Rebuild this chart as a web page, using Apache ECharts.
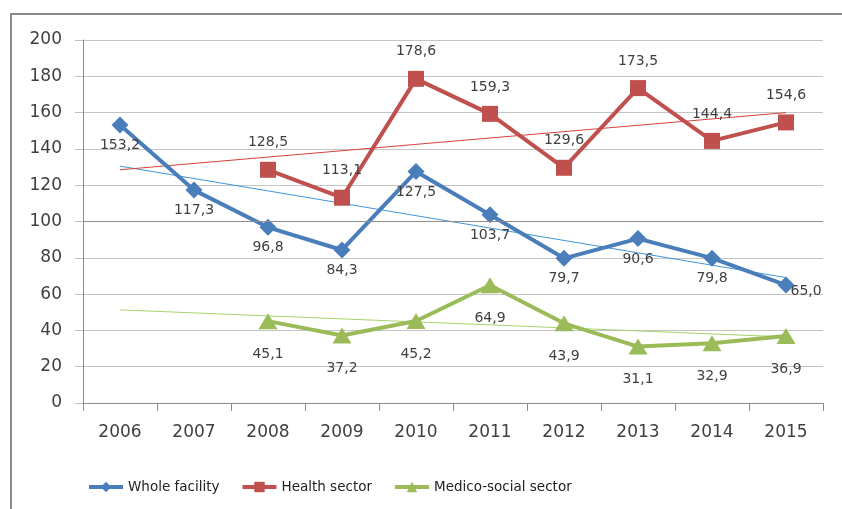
<!DOCTYPE html>
<html>
<head>
<meta charset="utf-8">
<script src="https://cdn.jsdelivr.net/npm/echarts@6/dist/echarts.min.js"></script>
<style>
  html, body { margin: 0; padding: 0; background: #fff; }
  #chart { width: 842px; height: 509px; }
</style>
</head>
<body>
<div id="chart"></div>
<script>
// years on x axis
var years = ['2006', '2007', '2008', '2009', '2010', '2011', '2012', '2013', '2014', '2015'];
var yTicks = [0, 20, 40, 60, 80, 100, 120, 140, 160, 180, 200];

// series values
var whole = [153.2, 117.3, 96.8, 84.3, 127.5, 103.7, 79.7, 90.6, 79.8, 65.0];
var health = ['-', '-', 128.5, 113.1, 178.6, 159.3, 129.6, 173.5, 144.4, 154.6];
var medico = ['-', '-', 45.1, 37.2, 45.2, 64.9, 43.9, 31.1, 32.9, 36.9];

// linear trend lines, start (2006) and end (2015) values
var wholeTrend = [130.5, 69.1];
var healthTrend = [128.5, 160.0];
var medicoTrend = [51.3, 36.4];

var names = ['Whole facility', 'Health sector', 'Medico-social sector'];
var font = 'DejaVu Sans';
var txt = '#404040';

function fmt(p) {
  return p.value.toFixed(1).replace('.', ',');
}

function trend(vals) {
  return [[years[0], vals[0]], [years[years.length - 1], vals[1]]];
}

// last point of whole facility has its label to the right
var wholeData = whole.map(function (v, i) {
  if (i === whole.length - 1) {
    return { value: v, label: { position: 'right', distance: -4, offset: [0, 6] } };
  }
  return v;
});

var chart = echarts.init(document.getElementById('chart'));
var option = {
  backgroundColor: '#fff',
  animation: false,
  textStyle: { fontFamily: font },
  graphic: [{
    type: 'rect',
    shape: { x: 11, y: 14, width: 900, height: 600 },
    style: { fill: 'none', stroke: '#8a8a8a', lineWidth: 2 },
    silent: true
  }],
  grid: { left: 83, right: 19, top: 40, bottom: 106 },
  legend: {
    data: names,
    left: 82,
    top: 475,
    itemWidth: 34,
    itemHeight: 13,
    itemGap: 21,
    lineStyle: { width: 4 },
    textStyle: { fontFamily: font, fontSize: 13.5, color: '#222' }
  },
  xAxis: {
    type: 'category',
    data: years,
    boundaryGap: true,
    axisLine: { lineStyle: { color: '#8c8c8c', width: 1 } },
    axisTick: { show: true, length: 8, lineStyle: { color: '#8c8c8c' } },
    axisLabel: { color: txt, fontSize: 17, margin: 21, fontFamily: font }
  },
  yAxis: {
    type: 'value',
    min: yTicks[0],
    max: yTicks[yTicks.length - 1],
    interval: 20,
    axisLine: { show: true, lineStyle: { color: '#8c8c8c', width: 1 } },
    axisTick: { show: true, length: 8, lineStyle: { color: '#bdbdbd' } },
    axisLabel: { color: txt, fontSize: 17, margin: 21, fontFamily: font },
    splitLine: { lineStyle: { color: '#c4c4c4', width: 1 } }
  },
  series: [
    {
      name: 'trend-whole',
      type: 'line',
      data: trend(wholeTrend),
      symbol: 'none',
      silent: true,
      z: 1,
      lineStyle: { color: '#3f95d9', width: 1 },
      markLine: {
        silent: true,
        symbol: 'none',
        label: { show: false },
        lineStyle: { color: '#8c8c8c', width: 1, type: 'solid' },
        data: [{ yAxis: 100 }]
      }
    },
    {
      name: 'trend-health',
      type: 'line',
      data: trend(healthTrend),
      symbol: 'none',
      silent: true,
      z: 1,
      lineStyle: { color: '#d8423c', width: 1 }
    },
    {
      name: 'trend-medico',
      type: 'line',
      data: trend(medicoTrend),
      symbol: 'none',
      silent: true,
      z: 1,
      lineStyle: { color: '#a6d46a', width: 1 }
    },
    {
      name: names[0],
      type: 'line',
      data: wholeData,
      symbol: 'diamond',
      symbolSize: 17,
      z: 3,
      color: '#4a7ebb',
      lineStyle: { color: '#4a7ebb', width: 4 },
      label: {
        show: true,
        position: 'bottom',
        distance: 5,
        formatter: fmt,
        color: txt,
        fontSize: 14,
        fontFamily: font
      }
    },
    {
      name: names[1],
      type: 'line',
      data: health,
      symbol: 'rect',
      symbolSize: 16,
      z: 3,
      color: '#c0504d',
      lineStyle: { color: '#c0504d', width: 4 },
      label: {
        show: true,
        position: 'top',
        distance: 12,
        formatter: fmt,
        color: txt,
        fontSize: 14,
        fontFamily: font
      }
    },
    {
      name: names[2],
      type: 'line',
      data: medico,
      symbol: 'triangle',
      symbolSize: [19, 16],
      z: 3,
      color: '#9bbb59',
      lineStyle: { color: '#9bbb59', width: 4 },
      label: {
        show: true,
        position: 'bottom',
        distance: 18,
        formatter: fmt,
        color: txt,
        fontSize: 14,
        fontFamily: font
      }
    }
  ]
};
chart.setOption(option);
</script>
</body>
</html>
